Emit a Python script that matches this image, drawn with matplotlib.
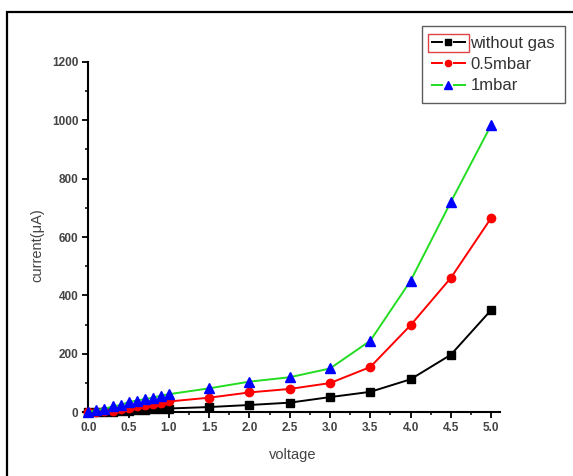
import matplotlib
matplotlib.use("Agg")
import matplotlib.pyplot as plt
from matplotlib.patches import Rectangle
from matplotlib.lines import Line2D
from matplotlib.ticker import MultipleLocator

plt.rcParams['font.family'] = ['Liberation Sans', 'DejaVu Sans']
plt.rcParams['lines.scale_dashes'] = False

voltage = [0.0, 0.1, 0.2, 0.3, 0.4, 0.5, 0.6, 0.7, 0.8, 0.9, 1.0,
           1.5, 2.0, 2.5, 3.0, 3.5, 4.0, 4.5, 5.0]
without_gas = [0, 0, 1, 2, 3, 5, 7, 9, 10, 12, 13,
               18, 25, 33, 52, 70, 113, 197, 350]
mbar05 = [0, 1, 3, 6, 10, 15, 20, 25, 30, 33, 37,
          50, 68, 80, 100, 155, 298, 460, 665]
mbar1 = [0, 8, 12, 20, 25, 35, 40, 45, 50, 57, 62,
         82, 105, 120, 150, 245, 450, 720, 983]
series_labels = ["without gas", "0.5mbar", "1mbar"]
xticks = [0.0, 0.5, 1.0, 1.5, 2.0, 2.5, 3.0, 3.5, 4.0, 4.5, 5.0]
yticks = [0, 200, 400, 600, 800, 1000, 1200]

W, H = 573, 476
fig = plt.figure(figsize=(W / 100, H / 100), dpi=100)
ax = fig.add_axes([82.7 / W, 1 - 412.3 / H, (500 - 82.7) / W, (412.3 - 61.7) / H])

styles = [
    dict(color='black', marker='s', ms=5.5, mfc='black', mec='black'),
    dict(color='#ff0000', marker='o', ms=6, mfc='#ff0000', mec='#ff0000'),
    dict(color='#22dd22', marker='^', ms=7, mfc='#0000ff', mec='#0000ff'),
]
for ys, st in zip([without_gas, mbar05, mbar1], styles):
    ax.plot(voltage, ys, lw=1.4, clip_on=False, zorder=3, **st)

ax.set_xlim(-0.07, 5.11)
ax.set_ylim(0, 1200)
ax.spines['left'].set_position(('data', 0))
ax.spines['top'].set_visible(False)
ax.spines['right'].set_visible(False)
for s in ('left', 'bottom'):
    ax.spines[s].set_linewidth(1.5)
ax.set_xticks(xticks)
ax.set_yticks(yticks)
ax.set_xticklabels([f"{v:.1f}" for v in xticks])
ax.xaxis.set_minor_locator(MultipleLocator(0.25))
ax.yaxis.set_minor_locator(MultipleLocator(100))
ax.tick_params(which='major', direction='out', length=4, width=1.3,
               labelsize=8.5, labelcolor='#444444', pad=3)
ax.tick_params(which='minor', direction='out', length=2, width=1.1)
for lab in ax.get_xticklabels() + ax.get_yticklabels():
    lab.set_fontweight('bold')

fig.text(293 / W, 1 - 455 / H, "voltage", ha='center', va='center',
         fontsize=10.5, color='#444444')
fig.text(37 / W, 1 - 245 / H, "current(μA)", ha='center', va='center',
         rotation=90, fontsize=10.5, color='#444444')

proxies = []
for st in styles:
    s2 = dict(st)
    s2['ms'] = st['ms'] * 0.75
    proxies.append(Line2D([0], [0], lw=1.4, linestyle=(0, (8.6, 7.2, 9.4, 3)), **s2))

leg = ax.legend(proxies, series_labels, loc='upper left',
                bbox_to_anchor=(421.7 / W, 1 - 26 / H), bbox_transform=fig.transFigure,
                fontsize=12.0, frameon=True, fancybox=False, edgecolor='#333333',
                handlelength=2.05, handletextpad=0.29, labelspacing=0.38,
                borderpad=0.58, borderaxespad=0, numpoints=1)
leg.get_frame().set_linewidth(1.0)
for t in leg.get_texts():
    t.set_color('#333333')

fig.add_artist(Rectangle((7.3 / W, -0.02), 1.1, 1 - 11.7 / H + 0.02,
                         transform=fig.transFigure, fill=False,
                         edgecolor='black', lw=1.6))

fig.canvas.draw()
r = fig.canvas.get_renderer()
hb = leg.legend_handles[0].get_window_extent(r)
txt = leg.get_texts()[0].get_window_extent(r)
x0, x1 = hb.x0 - 1, hb.x1 + 1
y0, y1 = txt.y0 - 1.5, txt.y1 + 1.5
fig.add_artist(Rectangle((x0 / W, y0 / H), (x1 - x0) / W, (y1 - y0) / H,
                         transform=fig.transFigure, fill=False,
                         edgecolor='#dd4444', lw=1.0))

fig.savefig("out.png", dpi=100)
